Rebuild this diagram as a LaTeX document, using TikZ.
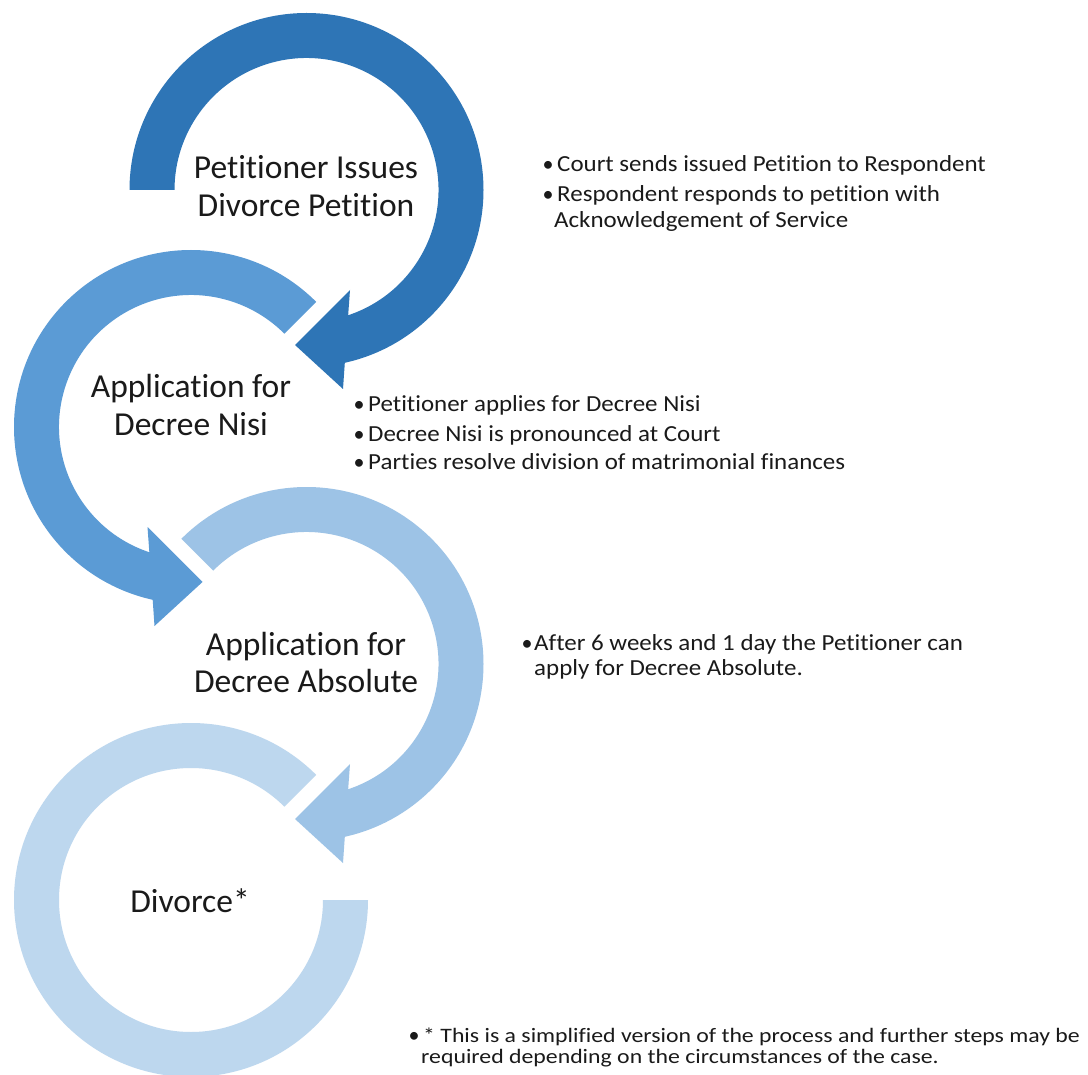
\documentclass[tikz,border=0pt]{standalone}
\usepackage{fontspec}
\setmainfont{Carlito}[Ligatures=NoCommon]
\usetikzlibrary{calc}
\definecolor{arrA}{HTML}{2E75B6}
\definecolor{arrB}{HTML}{5B9BD5}
\definecolor{arrC}{HTML}{9DC3E6}
\definecolor{arrD}{HTML}{BDD7EE}
\definecolor{txt}{HTML}{1A1A1A}
\newcommand{\bw}[1]{\scalebox{1.085}[1]{#1}}
\newcommand{\fw}[1]{\scalebox{1.16}[1]{#1}}
\tikzset{
  title/.style={anchor=base, inner sep=0pt, text=txt, font=\fontsize{33.5}{38}\selectfont},
  bultext/.style={anchor=base west, inner sep=0pt, text=txt, font=\fontsize{23}{26}\selectfont},
  buldot/.style={anchor=base, inner sep=0pt, text=txt, font=\fontsize{22}{26}\selectfont},
  foottext/.style={anchor=base west, inner sep=0pt, text=txt, font=\fontsize{20.5}{24}\selectfont},
}
\begin{document}
\begin{tikzpicture}[x=1pt,y=-1pt]
\useasboundingbox[fill=white] (0,0) rectangle (1088,1075);
\coordinate (C1) at (306.5,190);
\coordinate (C2) at (191,427);
\coordinate (C3) at (306.5,664);
\coordinate (C4) at (191,900);
% ring 4 (Divorce)
\fill[arrD] ($(C4)+(315:177)$) arc[start angle=315, end angle=0, radius=177]
  -- ($(C4)+(0:132)$) arc[start angle=0, end angle=315, radius=132] -- cycle;
% arrow 3
\fill[arrC] ($(C3)+(225:177)$) arc[start angle=225, end angle=437.5, radius=177]
  -- ($(C3)+(36.5,199)$) -- ($(C3)+(-11.5,155)$) -- ($(C3)+(43.5,100)$)
  -- ($(C3)+(71.6:132)$) arc[start angle=431.6, end angle=225, radius=132] -- cycle;
% arrow 2
\fill[arrB] ($(C2)+(315:177)$) arc[start angle=315, end angle=102.5, radius=177]
  -- ($(C2)+(-36.5,199)$) -- ($(C2)+(11.5,155)$) -- ($(C2)+(-43.5,100)$)
  -- ($(C2)+(108.4:132)$) arc[start angle=108.4, end angle=315, radius=132] -- cycle;
% arrow 1
\fill[arrA] ($(C1)+(180:177)$) arc[start angle=180, end angle=437.5, radius=177]
  -- ($(C1)+(36.5,199)$) -- ($(C1)+(-11.5,155)$) -- ($(C1)+(43.5,100)$)
  -- ($(C1)+(71.6:132)$) arc[start angle=431.6, end angle=180, radius=132] -- cycle;

% titles
\node[title] (t1a) at (306,179) {Petitioner Issues};
\node[title] (t1b) at (306,217) {Divorce Petition};
\node[title] (t2a) at (191,398) {Application for};
\node[title] (t2b) at (191,436) {Decree Nisi};
\node[title] (t3a) at (306,655) {Application for};
\node[title] (t3b) at (306,692) {Decree Absolute};
\node[title] (t4a) at (190,912) {Divorce*};

% bullets 1
\node[buldot] (d1a) at (548,172) {•};
\node[bultext] (l1a) at (557,172) {\bw{Court sends issued Petition to Respondent}};
\node[buldot] (d1b) at (548,202) {•};
\node[bultext] (l1b) at (557,202) {\bw{Respondent responds to petition with}};
\node[bultext] (l1c) at (554,228) {\bw{Acknowledgement of Service}};
% bullets 2
\node[buldot] (d2a) at (359,412) {•};
\node[bultext] (l2a) at (368,412) {\bw{Petitioner applies for Decree Nisi}};
\node[buldot] (d2b) at (359,442) {•};
\node[bultext] (l2b) at (368,442) {\bw{Decree Nisi is pronounced at Court}};
\node[buldot] (d2c) at (359,470) {•};
\node[bultext] (l2c) at (368,470) {\bw{Parties resolve division of matrimonial finances}};
% bullets 3
\node[buldot] (d3a) at (527,650) {•};
\node[bultext] (l3a) at (534,650) {\bw{After 6 weeks and 1 day the Petitioner can}};
\node[bultext] (l3b) at (534,675) {\bw{apply for Decree Absolute.}};
% footnote
\node[buldot] (d4a) at (414,1042) {•};
\node[foottext] (l4a) at (423,1042) {\fw{* This is a simplified version of the process and further steps may be}};
\node[foottext] (l4b) at (421,1063) {\fw{required depending on the circumstances of the case.}};
\end{tikzpicture}
\end{document}
